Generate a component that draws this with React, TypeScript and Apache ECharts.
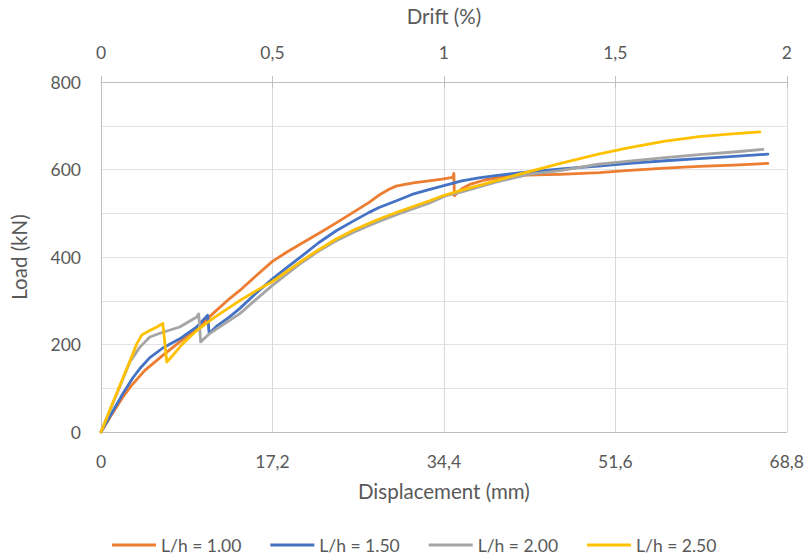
import React, { useEffect, useRef } from "react";
import * as echarts from "echarts";

const seriesNames = ["L/h = 1.00", "L/h = 1.50", "L/h = 2.00", "L/h = 2.50"];
const colors = ["#ED7D31", "#4472C4", "#A5A5A5", "#FFC000"];

const disp100 = [0, 1, 2.2, 3, 4.4, 6.2, 7.9, 9.6, 11.2, 12.9, 13.9, 15.5, 17.2, 18.7, 20.2, 22, 23.6, 25.3, 26.9, 28, 28.9, 29.6, 30.5, 31.5, 32.9, 34.2, 35.3, 35.4, 35.45, 36.2, 37, 38.5, 40, 42.6, 46, 50, 53, 56.6, 60, 63.5, 66.9];
const load100 = [0, 37, 80, 105, 141, 175, 206, 236, 270, 305, 323, 356, 390, 412, 432, 456, 478, 502, 525, 543, 555, 562, 566, 570, 574, 578, 582, 591, 540, 556, 566, 576, 582, 587, 589, 593, 598, 603, 607, 610, 614];

const disp150 = [0, 1, 2.2, 3.2, 3.9, 4.9, 6.2, 7.9, 9.6, 10.7, 10.85, 11.6, 12.9, 13.9, 15.5, 17.2, 18.7, 20.2, 21.8, 23.6, 25.3, 26.9, 27.9, 29.9, 31.2, 32.9, 34.4, 36.2, 37.9, 39.6, 41.9, 45.9, 49.9, 53, 56.6, 60, 63.5, 66.9];
const load150 = [0, 40, 88, 124, 145, 170, 192, 213, 240, 267, 225, 242, 263, 282, 316, 350, 377, 403, 432, 460, 482, 502, 513, 531, 543, 554, 563, 574, 581, 586, 592, 601, 608, 614, 620, 625, 630, 635];

const disp200 = [0, 1, 2, 2.9, 3.9, 4.9, 6.2, 7.9, 9.6, 9.8, 10.0, 10.9, 12.9, 13.9, 15.5, 17.2, 18.7, 20.2, 21.8, 23.6, 25.3, 26.9, 27.9, 29.9, 32.9, 34.6, 36.2, 39.6, 42.9, 45.9, 49.9, 53, 56.6, 60, 63.5, 66.4];
const load200 = [0, 55, 110, 160, 194, 217, 228, 240, 263, 270, 206, 225, 255, 270, 302, 335, 362, 388, 413, 437, 456, 472, 481, 499, 523, 540, 549, 571, 589, 597, 612, 619, 627, 634, 640, 646];

const disp250 = [0, 1.2, 2.9, 3.6, 4.1, 4.9, 5.6, 6.2, 6.6, 7.2, 8.2, 9.6, 11.2, 12.9, 13.9, 15.5, 17.2, 18.7, 20.2, 21.8, 23.6, 25.3, 26.9, 27.9, 29.9, 32.9, 34.3, 36.2, 39.6, 41.9, 45.9, 49.9, 53, 56.6, 60, 63, 66.1];
const load250 = [0, 68, 162, 202, 222, 232, 240, 248, 160, 175, 202, 232, 259, 285, 300, 322, 344, 368, 392, 416, 441, 461, 477, 487, 504, 528, 540, 553, 574, 589, 613, 635, 650, 665, 675, 681, 686];

const dispTicks = [0, 17.2, 34.4, 51.6, 68.8];
const driftTicks = [0, 0.5, 1, 1.5, 2];

const allDisp = [disp100, disp150, disp200, disp250];
const allLoad = [load100, load150, load200, load250];

const FONT = "Lato, 'Open Sans', sans-serif";
const TXT = "#595959";
const TICK_FS = 17.5;
const TITLE_FS = 20.5;
const fmt = (v: number) => String(Number(v.toFixed(1))).replace(".", ",");

export default function App() {
  const ref = useRef<HTMLDivElement>(null);
  useEffect(() => {
    document.body.style.margin = "0";
    if (!ref.current) return;
    const chart = echarts.init(ref.current, undefined, { renderer: "svg" });
    const series = seriesNames.map((name, i) => ({
      name,
      type: "line",
      xAxisIndex: 0,
      yAxisIndex: 0,
      showSymbol: false,
      symbol: "none",
      data: allDisp[i].map((x, k) => [x, allLoad[i][k]]),
      lineStyle: { color: colors[i], width: 2.8, cap: "round", join: "round" },
      itemStyle: { color: colors[i] },
      z: 2 + i,
    }));
    chart.setOption({
      animation: false,
      textStyle: { fontFamily: FONT },
      grid: { left: 101, right: 18, top: 81, bottom: 124, containLabel: false },
      legend: {
        top: 531,
        left: 107,
        icon: "rect",
        itemWidth: 44,
        itemHeight: 3,
        itemGap: 29,
        data: seriesNames,
        textStyle: { color: TXT, fontSize: TICK_FS, fontFamily: FONT },
      },
      xAxis: [
        {
          type: "value",
          position: "bottom",
          min: 0,
          max: dispTicks[dispTicks.length - 1],
          interval: dispTicks[1],
          name: "Displacement (mm)",
          nameLocation: "middle",
          nameGap: 48,
          nameTextStyle: { color: TXT, fontSize: TITLE_FS, fontFamily: FONT },
          axisLine: { show: true, lineStyle: { color: "#bfbfbf", width: 1 } },
          axisTick: { show: false },
          axisLabel: { color: TXT, fontSize: TICK_FS, margin: 20, formatter: fmt, fontFamily: FONT },
          splitLine: { show: true, lineStyle: { color: "#d9d9d9", width: 1 } },
        },
        {
          type: "value",
          position: "top",
          min: 0,
          max: driftTicks[driftTicks.length - 1],
          interval: driftTicks[1],
          name: "Drift (%)",
          nameLocation: "middle",
          nameGap: 56,
          nameTextStyle: { color: TXT, fontSize: TITLE_FS, fontFamily: FONT },
          axisLine: { show: true, lineStyle: { color: "#bfbfbf", width: 1 } },
          axisTick: { show: true, length: 6, lineStyle: { color: "#bfbfbf" } },
          axisLabel: { color: TXT, fontSize: TICK_FS, margin: 21, formatter: fmt, fontFamily: FONT },
          splitLine: { show: false },
        },
        {
          type: "value",
          position: "top",
          min: 0,
          max: driftTicks[driftTicks.length - 1],
          interval: driftTicks[1],
          axisLine: { show: false },
          axisTick: { show: true, inside: true, length: 6, lineStyle: { color: "#bfbfbf" } },
          axisLabel: { show: false },
          splitLine: { show: false },
        },
      ],
      yAxis: {
        type: "value",
        min: 0,
        max: 800,
        interval: 100,
        name: "Load (kN)",
        nameLocation: "middle",
        nameGap: 72,
        nameTextStyle: { color: TXT, fontSize: TITLE_FS, fontFamily: FONT },
        axisLine: { show: true, lineStyle: { color: "#bfbfbf", width: 1 } },
        axisTick: { show: false },
        axisLabel: {
          color: TXT,
          fontSize: TICK_FS,
          margin: 20,
          fontFamily: FONT,
          formatter: (v: number) => (v % 200 === 0 ? String(v) : ""),
        },
        splitLine: { show: true, lineStyle: { color: "#e3e3e3", width: 1 } },
      },
      series,
    });
    return () => chart.dispose();
  }, []);
  return <div ref={ref} style={{ width: 807, height: 556 }} />;
}
